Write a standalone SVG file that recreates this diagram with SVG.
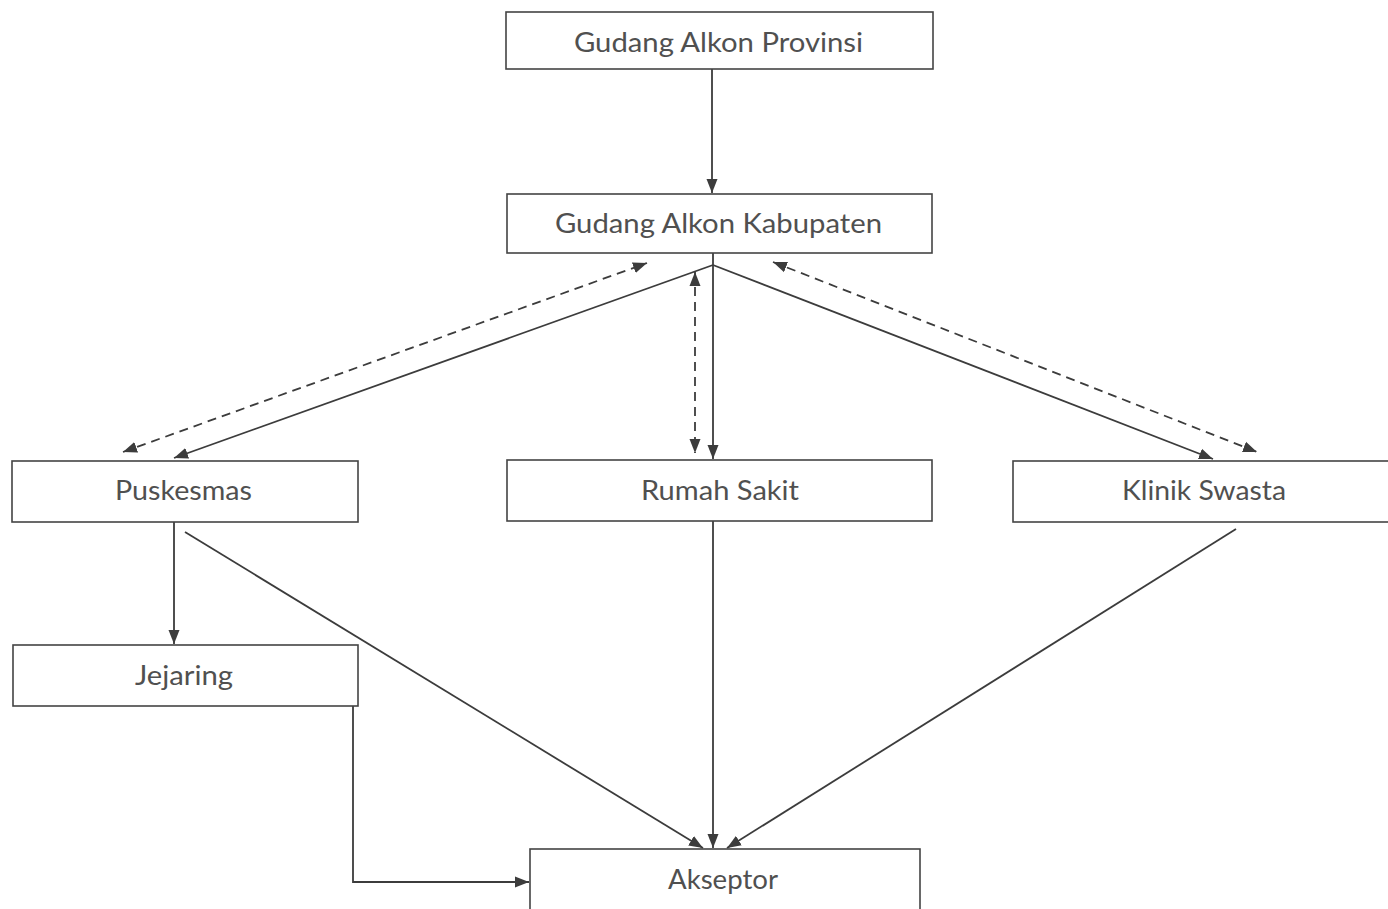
<svg xmlns="http://www.w3.org/2000/svg" width="1388" height="909" viewBox="0 0 1388 909">
<style>
.box{fill:#ffffff;stroke:#444444;stroke-width:1.6}
.lbl{font-family:Lato,"Open Sans","Liberation Sans",sans-serif;font-size:26px;fill:#505050;text-anchor:middle}
.ln{fill:none;stroke:#3c3c3c;stroke-width:1.8}
.ds{stroke-dasharray:9,6}
</style>
<defs>
<marker id="ah" markerUnits="userSpaceOnUse" markerWidth="15" markerHeight="12" refX="14" refY="5.5" orient="auto-start-reverse" viewBox="0 0 15 11">
<path d="M0,0 L14,5.5 L0,11 z" fill="#3c3c3c"/>
</marker>
</defs>
<rect width="1388" height="909" fill="#ffffff"/>
<g id="connectors">
<line class="ln" x1="712" y1="69" x2="712" y2="193" marker-end="url(#ah)"/>
<line class="ln" x1="713" y1="265" x2="174" y2="458" marker-end="url(#ah)"/>
<line class="ln" x1="713" y1="253" x2="713" y2="459" marker-end="url(#ah)"/>
<line class="ln" x1="713" y1="265" x2="1213" y2="459" marker-end="url(#ah)"/>
<line class="ln ds" x1="123" y1="452" x2="647" y2="263" marker-start="url(#ah)" marker-end="url(#ah)"/>
<line class="ln ds" x1="695" y1="272" x2="695" y2="453" marker-start="url(#ah)" marker-end="url(#ah)"/>
<line class="ln ds" x1="773" y1="262" x2="1257" y2="452" marker-start="url(#ah)" marker-end="url(#ah)"/>
<line class="ln" x1="174" y1="522" x2="174" y2="644" marker-end="url(#ah)"/>
<line class="ln" x1="185" y1="532" x2="703" y2="848" marker-end="url(#ah)"/>
<line class="ln" x1="713" y1="521" x2="713" y2="848" marker-end="url(#ah)"/>
<line class="ln" x1="1236" y1="529" x2="727" y2="848" marker-end="url(#ah)"/>
<polyline class="ln" points="353,706 353,882 529,882" marker-end="url(#ah)"/>
</g>
<g id="provinsi">
<rect class="box" x="506" y="12" width="427" height="57"/>
<text class="lbl" x="718.5" y="52" textLength="289" lengthAdjust="spacingAndGlyphs">Gudang Alkon Provinsi</text>
</g>
<g id="kabupaten">
<rect class="box" x="507" y="194" width="425" height="59"/>
<text class="lbl" x="718.5" y="233" textLength="327" lengthAdjust="spacingAndGlyphs">Gudang Alkon Kabupaten</text>
</g>
<g id="puskesmas">
<rect class="box" x="12" y="461" width="346" height="61"/>
<text class="lbl" x="183.5" y="500" textLength="137" lengthAdjust="spacingAndGlyphs">Puskesmas</text>
</g>
<g id="rumah-sakit">
<rect class="box" x="507" y="460" width="425" height="61"/>
<text class="lbl" x="720" y="500" textLength="158" lengthAdjust="spacingAndGlyphs">Rumah Sakit</text>
</g>
<g id="klinik-swasta">
<rect class="box" x="1013" y="461" width="380" height="61"/>
<text class="lbl" x="1204" y="500" textLength="164" lengthAdjust="spacingAndGlyphs">Klinik Swasta</text>
</g>
<g id="jejaring">
<rect class="box" x="13" y="645" width="345" height="61"/>
<text class="lbl" x="184" y="685" textLength="98" lengthAdjust="spacingAndGlyphs">Jejaring</text>
</g>
<g id="akseptor">
<rect class="box" x="530" y="849" width="390" height="70"/>
<text class="lbl" x="723" y="889" textLength="110" lengthAdjust="spacingAndGlyphs">Akseptor</text>
</g>
</svg>
